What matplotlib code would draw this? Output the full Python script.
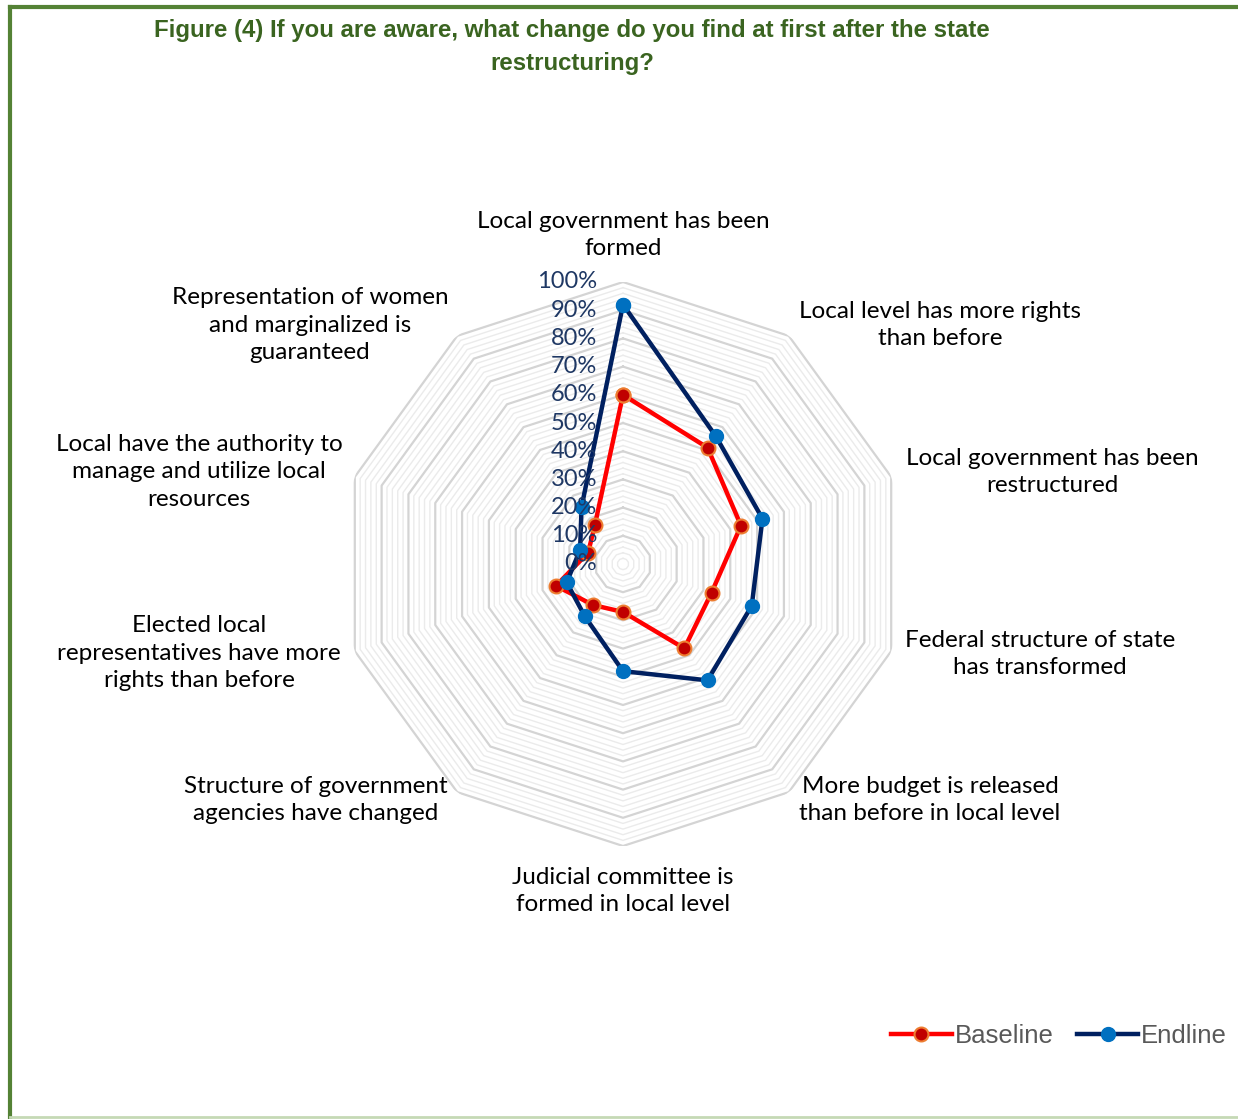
import numpy as np
import matplotlib.pyplot as plt
from matplotlib.lines import Line2D

# Data
categories = [
    'Local government has been\nformed',
    'Local level has more rights\nthan before',
    'Local government has been\nrestructured',
    'Federal structure of state\nhas transformed',
    'More budget is released\nthan before in local level',
    'Judicial committee is\nformed in local level',
    'Structure of government\nagencies have changed',
    'Elected local\nrepresentatives have more\nrights than before',
    'Local have the authority to\nmanage and utilize local\nresources',
    'Representation of women\nand marginalized is\nguaranteed',
]
baseline = [0.60, 0.51, 0.44, 0.33, 0.37, 0.17, 0.18, 0.25, 0.13, 0.17]
endline = [0.92, 0.56, 0.52, 0.48, 0.51, 0.38, 0.23, 0.21, 0.16, 0.25]
tick_values = [0.0, 0.1, 0.2, 0.3, 0.4, 0.5, 0.6, 0.7, 0.8, 0.9, 1.0]
tick_labels = ['0%', '10%', '20%', '30%', '40%', '50%', '60%', '70%', '80%', '90%', '100%']

# label centres in pixels (x, y from top)
label_pos = [(623, 235), (940, 325), (1052, 472), (1040, 654), (930, 800),
             (623, 891), (316, 800), (199, 653), (199, 472), (310, 325)]

W, H = 1238, 1119
fig = plt.figure(figsize=(W / 100, H / 100), dpi=100)

cx, cy, R = 623, 564, 282
ax = fig.add_axes([(cx - R) / W, 1 - (cy + R) / H, 2 * R / W, 2 * R / H],
                  projection='polar')
ax.set_theta_zero_location('N')
ax.set_theta_direction(-1)
ax.set_ylim(0, 1)
ax.grid(False)
ax.set_xticks([])
ax.set_yticks([])
ax.spines['polar'].set_visible(False)
ax.patch.set_alpha(0)

n = len(categories)
angles = np.linspace(0, 2 * np.pi, n, endpoint=False)
ang_closed = np.append(angles, angles[0])

# decagon gridlines: minor every 2%, major every 10%
for r in np.arange(0.02, 1.001, 0.02):
    if abs(r * 10 - round(r * 10)) < 1e-6:
        continue
    ax.plot(ang_closed, [r] * (n + 1), color='#EBEBEB', lw=1.0, zorder=1)
for r in tick_values[1:]:
    ax.plot(ang_closed, [r] * (n + 1), color='#D4D4D4', lw=1.6, zorder=1)

ax.plot(ang_closed, baseline + baseline[:1], color='#FF0000', lw=3.2,
        marker='o', markersize=10, markerfacecolor='#C00000',
        markeredgecolor='#ED7D31', markeredgewidth=1.5, zorder=3)
ax.plot(ang_closed, endline + endline[:1], color='#002060', lw=3.2,
        marker='o', markersize=10, markerfacecolor='#0070C0',
        markeredgecolor='#0070C0', zorder=4)

for v, lab in zip(tick_values, tick_labels):
    ax.annotate(lab, xy=(0, v), xytext=(-26, 0), textcoords='offset pixels',
                ha='right', va='center', fontsize=17, color='#1F3864',
                family='Lato', zorder=5)

for lab, (x, y) in zip(categories, label_pos):
    fig.text(x / W, 1 - y / H, lab, ha='center', va='center', fontsize=17.5,
             family='Lato', color='black', linespacing=1.4)

fig.text(572 / W, 1 - 47 / H,
         'Figure (4) If you are aware, what change do you find at first after the state\nrestructuring?',
         ha='center', va='center', fontsize=17.3, fontweight='bold',
         family=['Liberation Sans', 'DejaVu Sans'], color='#3A6420',
         linespacing=1.6)

# legend
handles = [
    Line2D([], [], color='#FF0000', lw=3.2, marker='o', markersize=10,
           markerfacecolor='#C00000', markeredgecolor='#ED7D31', markeredgewidth=1.5),
    Line2D([], [], color='#002060', lw=3.2, marker='o', markersize=10,
           markerfacecolor='#0070C0', markeredgecolor='#0070C0'),
]
fig.legend(handles, ['Baseline', 'Endline'], loc='center right',
           bbox_to_anchor=(1250 / W, 1 - 1036 / H), ncol=2, frameon=False,
           prop={'family': 'Liberation Sans', 'size': 18.5}, labelcolor='#595959',
           handlelength=2.4, handletextpad=0.1, columnspacing=0.9)

# frame lines
fig.add_artist(Line2D([10 / W, 10 / W], [0, 1 - 7 / H], color='#548235', lw=3))
fig.add_artist(Line2D([10 / W, 1], [1 - 7 / H, 1 - 7 / H], color='#548235', lw=3))
fig.add_artist(Line2D([10 / W, 1], [1 - 1117 / H, 1 - 1117 / H], color='#C5D9B5', lw=2))

fig.savefig('out.png', dpi=100)
